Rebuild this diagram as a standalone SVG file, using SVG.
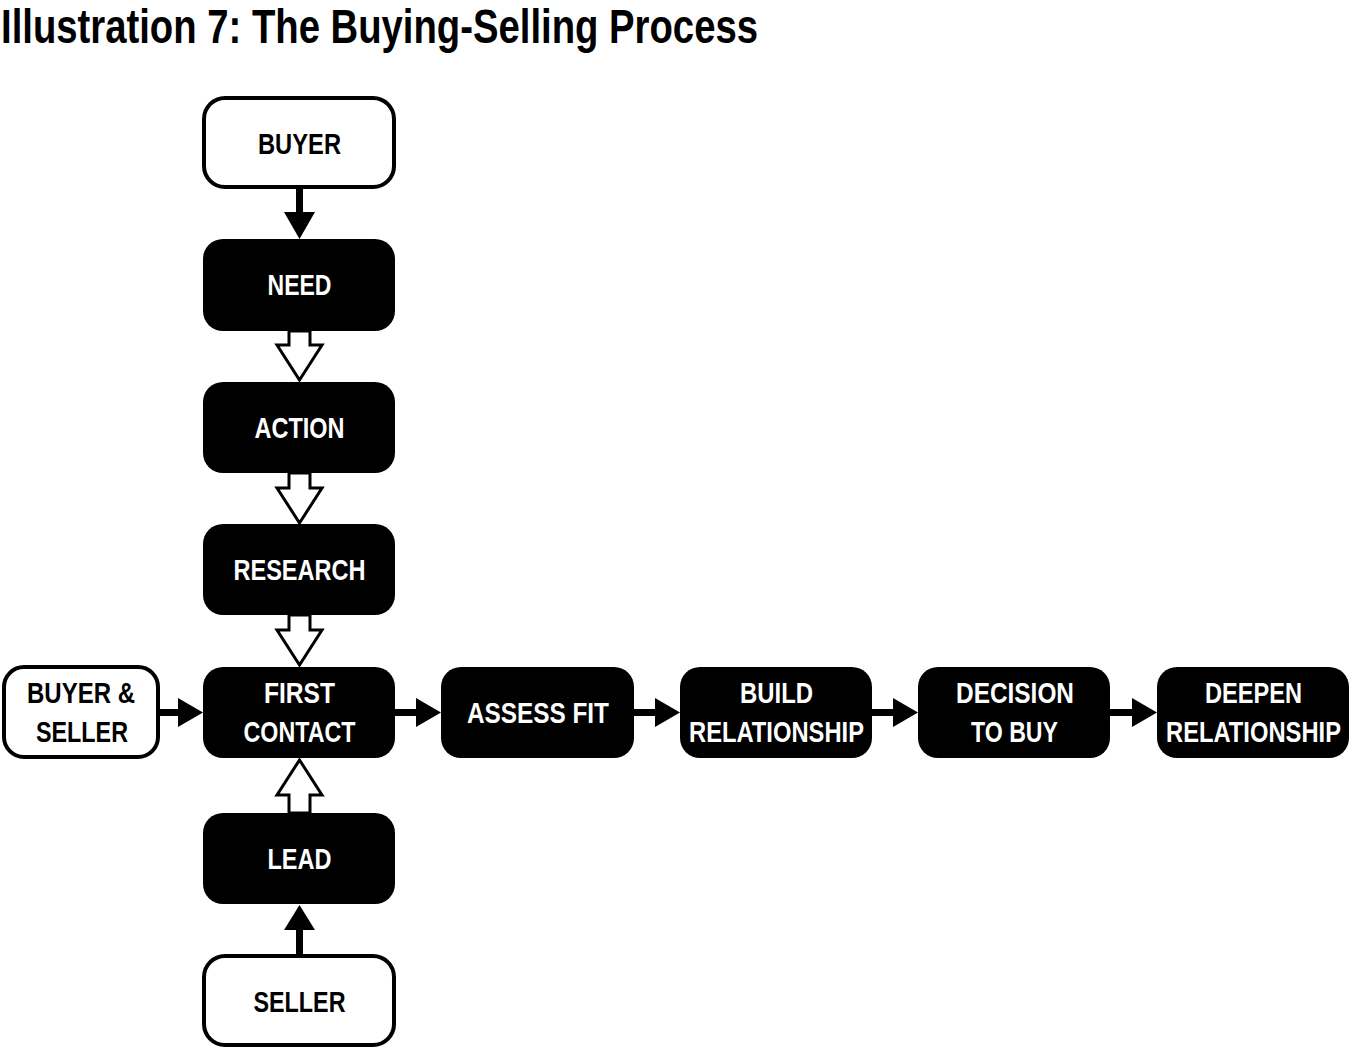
<svg xmlns="http://www.w3.org/2000/svg" width="1350" height="1049" viewBox="0 0 1350 1049">
<style>
.title{font-family:"Liberation Sans",Arial,sans-serif;font-size:49px;font-weight:bold;fill:#000}
.lbl{font-family:"Liberation Sans",Arial,sans-serif;font-size:30px;font-weight:bold;text-anchor:middle}
.dark rect{fill:#000}
.dark text{fill:#fff}
.light rect{fill:#fff;stroke:#000;stroke-width:4}
.light text{fill:#000}
.hollow{fill:#fff;stroke:#000;stroke-width:3;stroke-linejoin:miter}
.solid{fill:#000}
</style>
<rect width="1350" height="1049" fill="#fff"/>
<text class="title" x="1" y="43" textLength="757" lengthAdjust="spacingAndGlyphs">Illustration 7: The Buying-Selling Process</text>

<g id="nodes">
<g id="buyer" class="light"><rect x="204" y="98" width="190" height="89" rx="21"/><text class="lbl" x="299.5" y="154" textLength="83" lengthAdjust="spacingAndGlyphs">BUYER</text></g>
<g id="need" class="dark"><rect x="203" y="239" width="192" height="92" rx="20"/><text class="lbl" x="299.5" y="295" textLength="64" lengthAdjust="spacingAndGlyphs">NEED</text></g>
<g id="action" class="dark"><rect x="203" y="382" width="192" height="91" rx="20"/><text class="lbl" x="299.5" y="438" textLength="90" lengthAdjust="spacingAndGlyphs">ACTION</text></g>
<g id="research" class="dark"><rect x="203" y="524" width="192" height="91" rx="20"/><text class="lbl" x="299.5" y="580" textLength="132" lengthAdjust="spacingAndGlyphs">RESEARCH</text></g>
<g id="first-contact" class="dark"><rect x="203" y="667" width="192" height="91" rx="20"/><text class="lbl" x="299.5" y="703" textLength="71" lengthAdjust="spacingAndGlyphs">FIRST</text><text class="lbl" x="299.5" y="742" textLength="112" lengthAdjust="spacingAndGlyphs">CONTACT</text></g>
<g id="lead" class="dark"><rect x="203" y="813" width="192" height="91" rx="20"/><text class="lbl" x="299.5" y="869" textLength="64" lengthAdjust="spacingAndGlyphs">LEAD</text></g>
<g id="seller" class="light"><rect x="204" y="956" width="190" height="89" rx="21"/><text class="lbl" x="299.5" y="1012" textLength="92" lengthAdjust="spacingAndGlyphs">SELLER</text></g>
<g id="buyer-seller" class="light"><rect x="4" y="667" width="154" height="90" rx="20"/><text class="lbl" x="81" y="703" textLength="108" lengthAdjust="spacingAndGlyphs">BUYER &amp;</text><text class="lbl" x="82" y="742" textLength="92" lengthAdjust="spacingAndGlyphs">SELLER</text></g>
<g id="assess-fit" class="dark"><rect x="441" y="667" width="193" height="91" rx="20"/><text class="lbl" x="538" y="723" textLength="142" lengthAdjust="spacingAndGlyphs">ASSESS FIT</text></g>
<g id="build-relationship" class="dark"><rect x="680" y="667" width="192" height="91" rx="20"/><text class="lbl" x="776.5" y="703" textLength="73" lengthAdjust="spacingAndGlyphs">BUILD</text><text class="lbl" x="776.5" y="742" textLength="175" lengthAdjust="spacingAndGlyphs">RELATIONSHIP</text></g>
<g id="decision-to-buy" class="dark"><rect x="918" y="667" width="192" height="91" rx="20"/><text class="lbl" x="1015" y="703" textLength="118" lengthAdjust="spacingAndGlyphs">DECISION</text><text class="lbl" x="1014.5" y="742" textLength="87" lengthAdjust="spacingAndGlyphs">TO BUY</text></g>
<g id="deepen-relationship" class="dark"><rect x="1157" y="667" width="192" height="91" rx="20"/><text class="lbl" x="1253.5" y="703" textLength="97" lengthAdjust="spacingAndGlyphs">DEEPEN</text><text class="lbl" x="1253.5" y="742" textLength="175" lengthAdjust="spacingAndGlyphs">RELATIONSHIP</text></g>
</g>

<g id="connectors">
<path class="hollow" d="M289,331 V345 H277 L299.5,380 L322,345 H310 V331 Z"/>
<path class="hollow" d="M289,473 V488 H277 L299.5,523 L322,488 H310 V473 Z"/>
<path class="hollow" d="M289,615 V630 H277 L299.5,665 L322,630 H310 V615 Z"/>
<path class="hollow" d="M289,813 V795 H277 L299.5,760 L322,795 H310 V813 Z"/>
<rect class="solid" x="296" y="189" width="7" height="24"/>
<polygon class="solid" points="284,212 315,212 299.5,239"/>
<rect class="solid" x="296" y="929" width="7" height="26"/>
<polygon class="solid" points="284,930 315,930 299.5,905"/>
<rect class="solid" x="159" y="709" width="21" height="7"/>
<polygon class="solid" points="178,698 178,727 203,712.5"/>
<rect class="solid" x="395" y="709" width="22" height="7"/>
<polygon class="solid" points="416,698 416,727 441,712.5"/>
<rect class="solid" x="634" y="709" width="22" height="7"/>
<polygon class="solid" points="655,698 655,727 680,712.5"/>
<rect class="solid" x="872" y="709" width="22" height="7"/>
<polygon class="solid" points="893,698 893,727 918,712.5"/>
<rect class="solid" x="1110" y="709" width="23" height="7"/>
<polygon class="solid" points="1132,698 1132,727 1157,712.5"/>
</g>
</svg>
